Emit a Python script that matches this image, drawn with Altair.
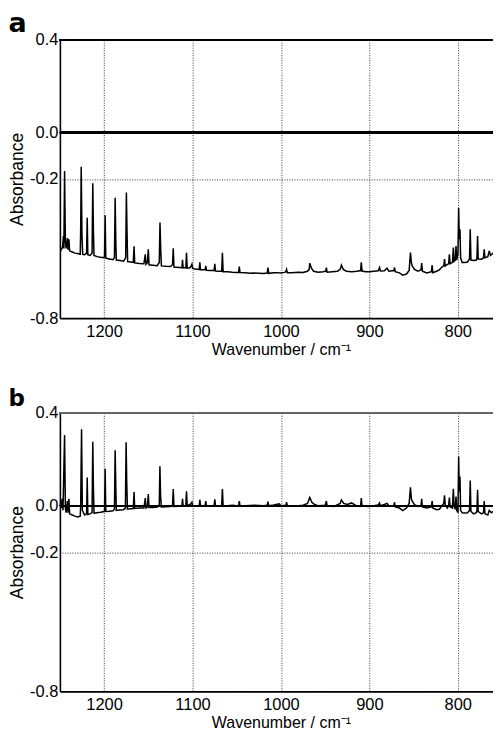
import altair as alt
import pandas as pd

# Panel a: raw spectrum (wavenumber, absorbance)
wn_a = [1250.0, 1248.5, 1247.0, 1246.0, 1245.5, 1244.7, 1243.8, 1243.0, 1241.5, 1240.8,
        1239.8, 1239.0, 1236.0, 1233.0, 1230.0, 1227.0, 1226.5, 1225.9, 1225.0, 1224.2,
        1222.0, 1219.8, 1219.1, 1218.4, 1216.0, 1213.6, 1212.8, 1212.1, 1211.4, 1208.0,
        1204.0, 1200.0, 1199.5, 1198.8, 1198.1, 1194.0, 1190.0, 1188.3, 1187.5, 1186.8,
        1186.2, 1182.0, 1178.0, 1175.6, 1174.8, 1174.1, 1173.4, 1170.0, 1167.0, 1166.1,
        1165.4, 1160.0, 1155.0, 1153.4, 1152.6, 1151.0, 1150.0, 1149.2, 1145.0, 1140.0,
        1137.6, 1136.8, 1136.0, 1135.2, 1130.0, 1125.0, 1122.6, 1121.8, 1121.0, 1115.0,
        1112.0, 1111.3, 1110.6, 1107.6, 1106.8, 1106.0, 1103.0, 1101.5, 1100.7, 1100.0,
        1097.0, 1092.5, 1091.7, 1091.0, 1085.8, 1085.0, 1084.2, 1080.0, 1075.6, 1074.8,
        1074.0, 1070.0, 1067.0, 1066.2, 1065.4, 1060.0, 1055.0, 1050.0, 1047.9, 1047.1,
        1046.3, 1040.0, 1035.0, 1030.0, 1025.0, 1020.0, 1015.5, 1014.7, 1013.9, 1008.0,
        1004.0, 1000.0, 996.0, 994.4, 993.6, 992.8, 988.0, 980.0, 975.0, 970.0,
        968.0, 967.4, 965.5, 963.0, 958.0, 952.0, 949.4, 948.6, 947.8, 942.0,
        936.0, 933.0, 931.6, 929.5, 926.0, 920.0, 914.0, 909.9, 909.1, 908.3,
        904.0, 900.0, 895.0, 890.0, 888.5, 887.5, 883.0, 880.0, 878.0, 872.3,
        871.5, 870.7, 866.0, 862.2, 858.0, 855.0, 853.5, 852.5, 851.5, 849.0,
        845.0, 841.6, 840.8, 840.0, 835.0, 829.8, 829.0, 828.2, 824.0, 820.8,
        818.0, 815.8, 815.0, 814.2, 812.0, 810.3, 809.5, 808.7, 806.0, 805.0,
        804.2, 802.8, 802.0, 801.2, 799.8, 799.0, 798.3, 797.5, 796.8, 795.0,
        792.0, 789.0, 786.7, 785.9, 785.1, 782.0, 779.0, 778.3, 777.6, 776.9,
        773.0, 770.9, 770.1, 769.3, 766.0, 764.4, 763.0, 760.0, 758.0, 757.0,
        756.2, 755.4, 754.0, 752.0]
abs_a = [-0.490, -0.505, -0.495, -0.446, -0.500, -0.166, -0.470, -0.500, -0.455, -0.505,
         -0.460, -0.510, -0.515, -0.520, -0.522, -0.525, -0.420, -0.148, -0.450, -0.525,
         -0.527, -0.520, -0.367, -0.527, -0.530, -0.520, -0.219, -0.420, -0.530, -0.535,
         -0.538, -0.540, -0.530, -0.357, -0.542, -0.545, -0.548, -0.540, -0.281, -0.460,
         -0.550, -0.552, -0.555, -0.540, -0.259, -0.420, -0.556, -0.558, -0.560, -0.490,
         -0.562, -0.565, -0.566, -0.525, -0.568, -0.560, -0.503, -0.570, -0.572, -0.574,
         -0.560, -0.388, -0.500, -0.575, -0.577, -0.578, -0.570, -0.499, -0.580, -0.582,
         -0.583, -0.549, -0.584, -0.582, -0.518, -0.585, -0.583, -0.575, -0.568, -0.585,
         -0.588, -0.590, -0.560, -0.592, -0.592, -0.575, -0.594, -0.595, -0.595, -0.566,
         -0.597, -0.598, -0.598, -0.518, -0.600, -0.600, -0.602, -0.603, -0.603, -0.578,
         -0.604, -0.605, -0.607, -0.606, -0.607, -0.608, -0.606, -0.582, -0.607, -0.605,
         -0.604, -0.606, -0.603, -0.600, -0.590, -0.604, -0.604, -0.602, -0.603, -0.598,
         -0.590, -0.563, -0.585, -0.598, -0.602, -0.600, -0.598, -0.582, -0.602, -0.600,
         -0.598, -0.590, -0.572, -0.590, -0.598, -0.600, -0.598, -0.595, -0.560, -0.597,
         -0.600, -0.600, -0.598, -0.596, -0.582, -0.597, -0.596, -0.585, -0.598, -0.595,
         -0.582, -0.600, -0.605, -0.615, -0.610, -0.595, -0.518, -0.560, -0.575, -0.590,
         -0.598, -0.592, -0.563, -0.598, -0.605, -0.600, -0.572, -0.604, -0.598, -0.592,
         -0.580, -0.575, -0.546, -0.575, -0.570, -0.565, -0.525, -0.566, -0.560, -0.496,
         -0.555, -0.550, -0.489, -0.550, -0.520, -0.324, -0.460, -0.417, -0.540, -0.560,
         -0.560, -0.558, -0.545, -0.417, -0.550, -0.552, -0.550, -0.540, -0.446, -0.545,
         -0.546, -0.540, -0.503, -0.540, -0.535, -0.510, -0.530, -0.520, -0.510, -0.480,
         -0.374, -0.440, -0.470, -0.460]

# Panel b: baseline-corrected spectrum
wn_b = [1250.0, 1248.5, 1247.5, 1246.5, 1245.5, 1244.7, 1243.8, 1243.0, 1241.5, 1240.8,
        1239.8, 1239.0, 1236.0, 1233.0, 1230.0, 1227.0, 1226.5, 1225.5, 1224.6, 1222.0,
        1219.8, 1219.1, 1218.4, 1216.0, 1213.6, 1212.8, 1212.1, 1211.4, 1208.0, 1204.0,
        1200.0, 1199.5, 1198.8, 1198.1, 1194.0, 1190.0, 1188.3, 1187.5, 1186.8, 1186.2,
        1182.0, 1178.0, 1175.9, 1175.1, 1174.4, 1173.6, 1170.0, 1167.0, 1166.1, 1165.4,
        1160.0, 1155.0, 1153.4, 1152.6, 1151.0, 1150.0, 1149.2, 1145.0, 1140.0, 1137.6,
        1136.9, 1136.1, 1135.2, 1130.0, 1125.0, 1122.6, 1121.8, 1121.0, 1115.0, 1112.0,
        1111.3, 1110.6, 1107.6, 1106.8, 1106.0, 1103.0, 1101.5, 1100.7, 1100.0, 1097.0,
        1092.5, 1091.7, 1091.0, 1085.8, 1085.0, 1084.2, 1080.0, 1075.6, 1074.8, 1074.0,
        1070.0, 1067.0, 1066.2, 1065.4, 1060.0, 1055.0, 1050.0, 1047.9, 1047.1, 1046.3,
        1040.0, 1030.0, 1020.0, 1015.5, 1014.7, 1013.9, 1008.0, 1002.0, 1000.0, 994.4,
        993.6, 992.8, 980.0, 975.0, 970.0, 967.4, 965.0, 962.0, 958.0, 950.0,
        948.6, 947.8, 940.0, 933.0, 931.6, 929.0, 925.0, 920.0, 915.0, 909.9,
        909.1, 908.3, 904.0, 900.0, 895.0, 890.0, 888.5, 887.5, 883.0, 880.0,
        878.0, 872.3, 871.5, 870.7, 866.0, 862.2, 858.0, 855.0, 853.5, 852.5,
        851.5, 849.0, 845.0, 841.6, 840.8, 840.0, 835.0, 829.8, 829.0, 828.2,
        824.0, 820.8, 818.0, 815.8, 815.0, 814.2, 812.0, 810.3, 809.5, 808.7,
        806.0, 805.0, 804.2, 802.8, 802.0, 801.2, 799.8, 799.0, 798.3, 797.5,
        796.8, 795.0, 792.0, 789.0, 786.7, 785.9, 785.1, 782.0, 779.0, 778.3,
        777.6, 776.9, 773.0, 770.9, 770.1, 769.3, 766.0, 764.4, 762.0, 758.0,
        757.0, 756.2, 755.4, 754.0, 752.0]
abs_b = [0.005, -0.010, 0.030, -0.020, 0.160, 0.305, -0.010, -0.030, 0.020, -0.030,
         0.030, -0.035, -0.040, -0.045, -0.048, -0.045, 0.000, 0.330, -0.020, -0.040,
         -0.035, 0.122, -0.038, -0.035, -0.030, 0.276, 0.080, -0.032, -0.030, -0.028,
         -0.025, -0.020, 0.159, -0.025, -0.024, -0.022, -0.015, 0.239, 0.090, -0.020,
         -0.018, -0.017, -0.010, 0.273, 0.100, -0.015, -0.013, -0.012, 0.059, -0.012,
         -0.010, -0.010, 0.033, -0.010, -0.005, 0.050, -0.008, -0.008, -0.006, 0.000,
         0.170, 0.040, -0.005, -0.004, -0.003, 0.000, 0.072, -0.003, -0.002, -0.002,
         0.030, -0.002, 0.000, 0.062, 0.000, 0.005, 0.010, 0.015, 0.000, 0.000,
         0.000, 0.025, 0.000, 0.000, 0.020, 0.000, 0.000, 0.000, 0.027, 0.000,
         0.000, 0.000, 0.072, 0.000, 0.000, 0.002, 0.000, 0.000, 0.020, 0.000,
         0.000, 0.002, 0.000, 0.002, 0.018, 0.000, 0.003, 0.008, 0.000, 0.002,
         0.015, 0.000, 0.000, 0.002, 0.010, 0.036, 0.015, 0.005, 0.000, 0.002,
         0.020, 0.000, -0.003, 0.010, 0.025, 0.010, 0.005, 0.012, 0.000, 0.000,
         0.033, 0.000, -0.002, -0.003, 0.000, 0.003, 0.012, 0.000, 0.005, 0.010,
         0.000, 0.000, 0.015, -0.005, -0.010, -0.021, -0.010, 0.010, 0.079, 0.030,
         0.020, 0.005, -0.003, 0.000, 0.030, -0.005, -0.010, -0.005, 0.020, -0.010,
         -0.017, -0.015, 0.000, 0.010, 0.045, 0.005, -0.010, 0.000, 0.035, -0.005,
         -0.010, 0.073, 0.000, -0.015, 0.040, -0.020, -0.030, 0.212, 0.060, 0.126,
         -0.020, -0.030, -0.031, -0.030, -0.020, 0.109, -0.025, -0.035, -0.030, -0.020,
         0.069, -0.025, -0.035, -0.030, 0.020, -0.035, -0.040, -0.020, -0.030, -0.020,
         0.000, 0.105, 0.050, 0.020, 0.030]

y_ticks = [-0.8, -0.2, 0.0, 0.4]
x_ticks = [1200, 1100, 1000, 900, 800]
x_domain = [750, 1250]
y_domain = [-0.8, 0.4]

FONT = "Liberation Sans"

def panel(wn, ab, label, label_size, title_offset, top_color):
    df = pd.DataFrame({"wn": wn, "absorb": ab})
    x = alt.X("wn:Q", scale=alt.Scale(domain=x_domain, reverse=True, nice=False, zero=False),
              axis=alt.Axis(values=x_ticks, format="d", title="Wavenumber / cm\u207b\u00b9"))
    y = alt.Y("absorb:Q", scale=alt.Scale(domain=y_domain, nice=False, zero=False),
              axis=alt.Axis(values=y_ticks, title="Absorbance",
                            labelExpr="datum.value == 0 ? '0.0' : (datum.value < 0 ? '-' + format(-datum.value, '.1f') : format(datum.value, '.1f'))"))
    line = alt.Chart(df).mark_line(color="black", strokeWidth=1.5, clip=True).encode(x=x, y=y, order="wn:Q")
    zero = alt.Chart(df).mark_rule(color="black", strokeWidth=1.3).encode(y=alt.datum(0.0))
    top = alt.Chart(df).mark_rule(color=top_color, strokeWidth=1.6).encode(y=alt.datum(0.4))
    return alt.layer(zero, top, line).properties(
        width=443, height=279,
        title=alt.TitleParams(text=label, anchor="start", frame="bounds", fontSize=label_size,
                              fontWeight="bold", font="DejaVu Sans", color="black",
                              offset=title_offset),
    )

chart = alt.vconcat(
    panel(wn_a, abs_a, "a", 27, -6.5, "black"),
    panel(wn_b, abs_b, "b", 23, -6.5, "#666666"),
    spacing=30,
).properties(
    padding={"left": 0, "top": 1, "right": -10, "bottom": -2},
).configure_view(stroke=None).configure_axis(
    labelFont=FONT, labelFontSize=16.5, labelColor="black",
    titleFont=FONT, titleFontWeight="normal", titleColor="black",
    domainColor="black", domainWidth=1.6, ticks=False,
    grid=True, gridColor="#222222", gridDash=[1, 1.5], gridWidth=1, gridOpacity=0.9,
).configure_axisY(titlePadding=3, labelPadding=2, titleFontSize=17.5).configure_axisX(
    titlePadding=2, labelPadding=5, titleFontSize=16)

chart.save("out.html", embed_options={"renderer": "svg", "actions": False})
